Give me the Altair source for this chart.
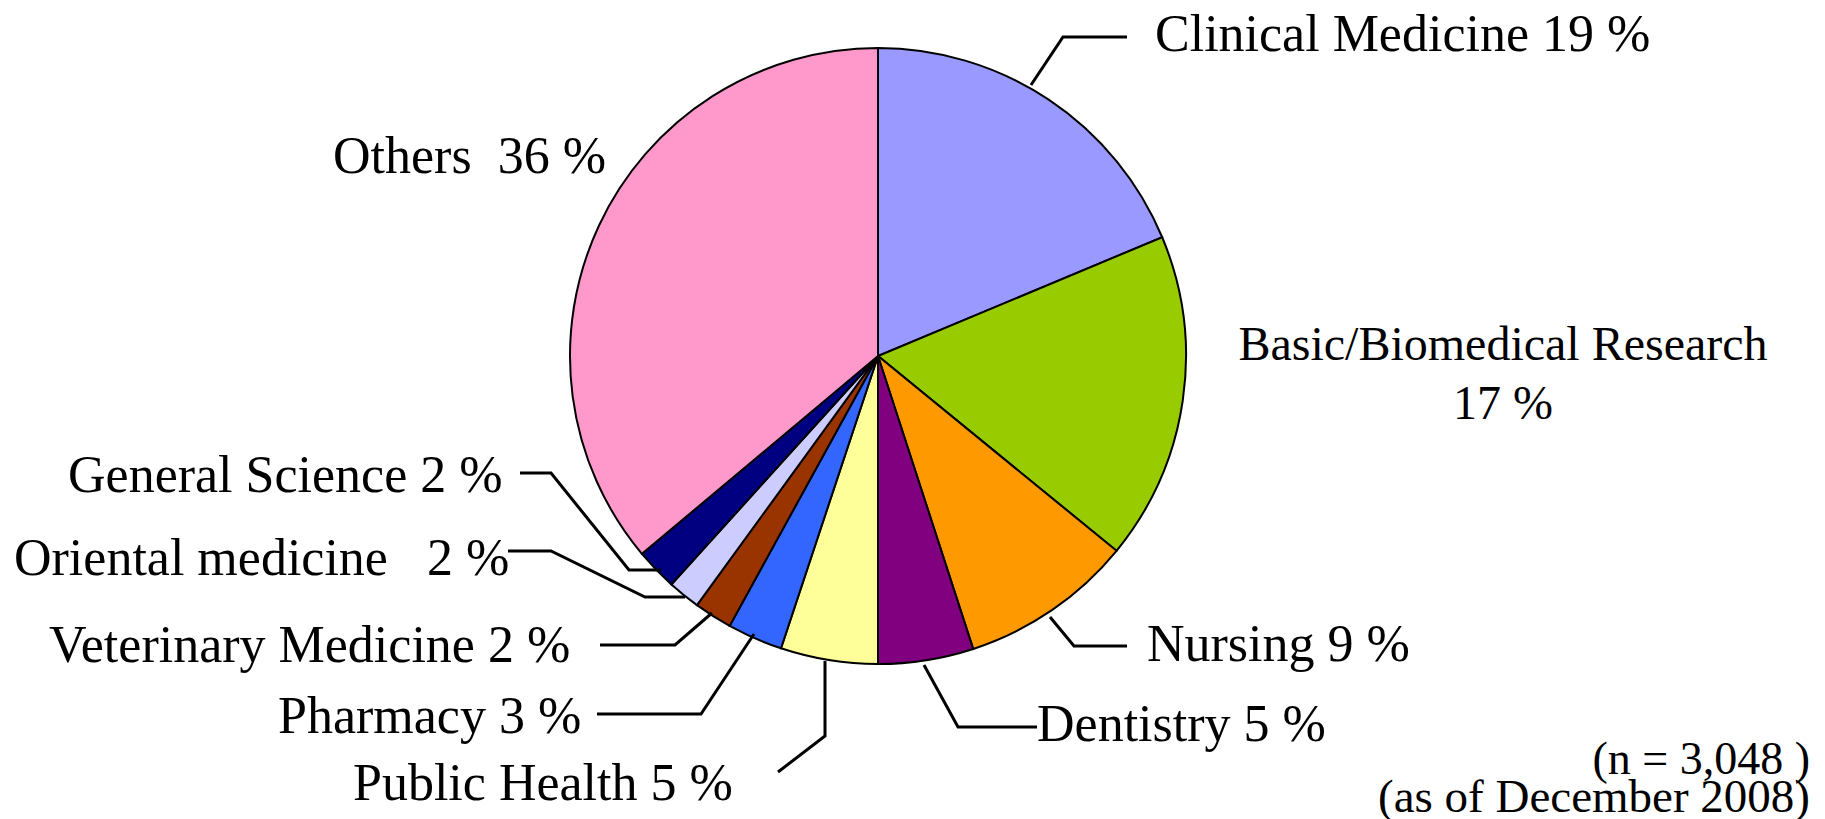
import altair as alt
import pandas as pd

# ---- data ----
categories = ["Clinical Medicine", "Basic/Biomedical Research", "Nursing", "Dentistry",
              "Public Health", "Pharmacy", "Veterinary Medicine", "Oriental medicine",
              "General Science", "Others"]
shares = [18.7, 17.2, 9.1, 5.0, 5.1, 2.9, 2.0, 1.7, 2.2, 36.1]
label_pct = [19, 17, 9, 5, 5, 3, 2, 2, 2, 36]
colors = ["#9999FF", "#99CC00", "#FF9900", "#800080", "#FFFF99",
          "#3366FF", "#993300", "#CCCCFF", "#000080", "#FF99CC"]
note_lines = ["(n = 3,048 )", "(as of December 2008)"]

# ---- layout (page pixels, origin at chart top-left) ----
OFF = 8
W, H = 1809, 811
CX, CY, R = 878 - OFF, 356 - OFF, 308

# label: (x, baseline y, align, font size, separator)
label_layout = {
    "Clinical Medicine": (1155, 51, "left", 52, " "),
    "Nursing": (1147, 661, "left", 52, " "),
    "Dentistry": (1037, 741, "left", 52, " "),
    "Public Health": (353, 800, "left", 52, " "),
    "Pharmacy": (278, 733, "left", 52, " "),
    "Veterinary Medicine": (49, 662, "left", 52, " "),
    "Oriental medicine": (14, 575, "left", 52, "\u00a0\u00a0 "),
    "General Science": (68, 492, "left", 52, " "),
    "Others": (333, 173, "left", 52, "\u00a0 "),
}
leaders = {
    "Clinical Medicine": [(1127, 37), (1063, 37), (1031, 85)],
    "Nursing": [(1127, 646), (1074, 646), (1050, 617)],
    "Dentistry": [(1037, 727), (958, 727), (924, 665)],
    "Public Health": [(778, 772), (825, 736), (825, 661)],
    "Pharmacy": [(597, 714), (701, 714), (754, 634)],
    "Veterinary Medicine": [(600, 645), (675, 645), (712, 613)],
    "Oriental medicine": [(508, 551), (551, 551), (645, 597), (685, 597)],
    "General Science": [(520, 473), (551, 473), (629, 570), (661, 570)],
}

pie_df = pd.DataFrame({"category": categories, "share": shares,
                       "idx": list(range(len(categories)))})

rows = []
for cat, pct in zip(categories, label_pct):
    if cat in label_layout:
        x, y, al, fs, sep = label_layout[cat]
        rows.append({"text": f"{cat}{sep}{pct} %", "x": x - OFF, "y": y - OFF,
                     "align": al, "fs": fs})
    elif cat == "Basic/Biomedical Research":
        rows.append({"text": cat, "x": 1503 - OFF, "y": 360 - OFF, "align": "center", "fs": 48})
        rows.append({"text": f"{pct} %", "x": 1503 - OFF, "y": 419 - OFF, "align": "center", "fs": 48})
rows.append({"text": note_lines[0], "x": 1810 - OFF, "y": 774 - OFF, "align": "right", "fs": 46})
rows.append({"text": note_lines[1], "x": 1810 - OFF, "y": 812 - OFF, "align": "right", "fs": 47})
text_df = pd.DataFrame(rows)

lrows = []
for cat, pts in leaders.items():
    for i, (x, y) in enumerate(pts):
        lrows.append({"grp": cat, "ord": i, "x": x - OFF, "y": y - OFF})
leader_df = pd.DataFrame(lrows)

pie = alt.Chart(pie_df).mark_arc(radius=R, stroke="black", strokeWidth=2).encode(
    theta=alt.Theta("share:Q", stack=True),
    order=alt.Order("idx:Q", sort="ascending"),
    color=alt.Color("category:N", scale=alt.Scale(domain=categories, range=colors), legend=None),
    x=alt.value(CX),
    y=alt.value(CY),
)

lines = alt.Chart(leader_df).mark_line(color="black", strokeWidth=3, strokeCap="butt").encode(
    x=alt.X("x:Q", scale=None, axis=None),
    y=alt.Y("y:Q", scale=None, axis=None),
    detail="grp:N",
    order="ord:Q",
)

def text_layer(al):
    return alt.Chart(text_df[text_df["align"] == al]).mark_text(
        font="Liberation Serif", baseline="alphabetic", align=al, color="black"
    ).encode(
        x=alt.X("x:Q", scale=None, axis=None),
        y=alt.Y("y:Q", scale=None, axis=None),
        text="text:N",
        size=alt.Size("fs:Q", scale=None, legend=None),
    )

chart = alt.layer(pie, lines, text_layer("left"), text_layer("center"), text_layer("right")).properties(
    width=W, height=H, padding=0, autosize=alt.AutoSizeParams(type="none")
).configure_view(stroke=None).resolve_scale(color="independent")

chart.save("out.html", embed_options={"renderer": "svg", "actions": False})
